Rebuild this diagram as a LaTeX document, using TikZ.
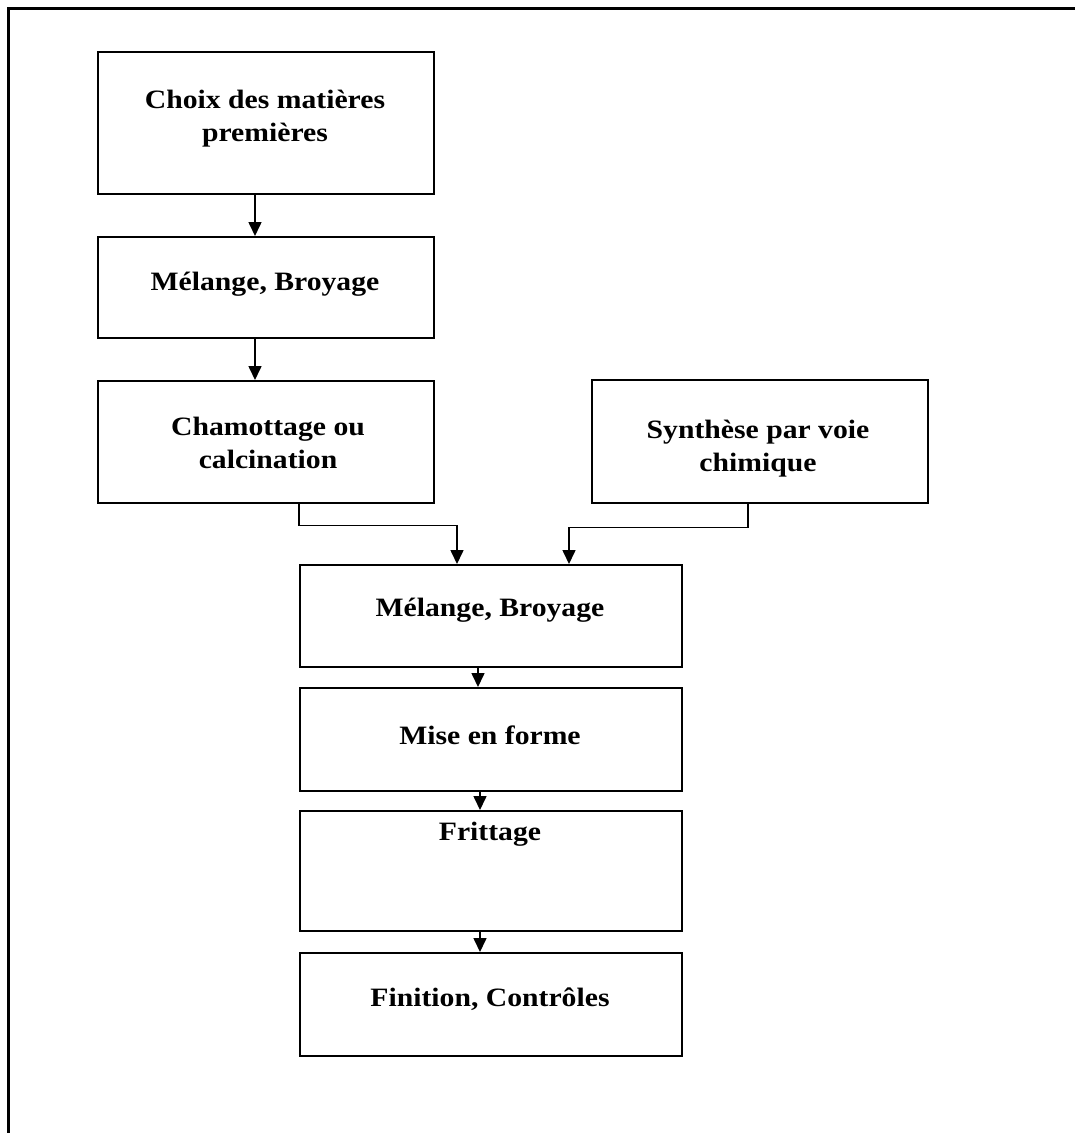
\documentclass[tikz,border=0pt]{standalone}
\usepackage{fontspec}
\newfontfamily\lblfont{Liberation Serif}[FakeStretch=1.12]
\usetikzlibrary{arrows.meta}
\begin{document}
\begin{tikzpicture}[x=1pt,y=-1pt,
  box/.style={draw=black,line width=2.3pt,inner sep=0pt,anchor=north west},
  lbl/.style={align=center,inner sep=0pt,font=\lblfont\bfseries\fontsize{26.5}{33}\selectfont},
  arr/.style={draw=black,line width=1.6pt,-{Triangle[width=13pt,length=14pt]}},
  ]
\useasboundingbox (0,0) rectangle (1075,1133);
\fill[white] (0,0) rectangle (1075,1133);
% frame
\draw[line width=3pt] (8,1140) -- (8,8) -- (1080,8);
% boxes
\node[box,minimum width=336pt,minimum height=142pt] (b1) at (97,51) {};
\node[box,minimum width=336pt,minimum height=101pt] (b2) at (97,236) {};
\node[box,minimum width=336pt,minimum height=122pt] (b3) at (97,380) {};
\node[box,minimum width=336pt,minimum height=123pt] (b4) at (591,379) {};
\node[box,minimum width=382pt,minimum height=102pt] (b5) at (299,564) {};
\node[box,minimum width=382pt,minimum height=103pt] (b6) at (299,687) {};
\node[box,minimum width=382pt,minimum height=120pt] (b7) at (299,810) {};
\node[box,minimum width=382pt,minimum height=103pt] (b8) at (299,952) {};
% labels
\node[lbl] (t1) at (265,119) {Choix des matières\\premières};
\node[lbl] (t2) at (265,284) {Mélange, Broyage};
\node[lbl] (t3) at (268,443) {Chamottage ou\\calcination};
\node[lbl] (t4) at (758,449) {Synthèse par voie\\chimique};
\node[lbl] (t5) at (490,610) {Mélange, Broyage};
\node[lbl] (t6) at (490,735) {Mise en forme};
\node[lbl] (t7) at (490,834) {Frittage};
\node[lbl] (t8) at (490,999) {Finition, Contrôles};
% connectors
\draw[arr] ([xshift=158pt]b1.south west) -- ([xshift=158pt]b2.north west);
\draw[arr] ([xshift=158pt]b2.south west) -- ([xshift=158pt]b3.north west);
\draw[arr] ([xshift=202pt]b3.south west) -- ++(0,21) -| ([xshift=158pt]b5.north west);
\draw[arr] ([xshift=157pt]b4.south west) -- ++(0,23) -| ([xshift=270pt]b5.north west);
\draw[arr] ([xshift=179pt]b5.south west) -- ([xshift=179pt]b6.north west);
\draw[arr] ([xshift=181pt]b6.south west) -- ([xshift=181pt]b7.north west);
\draw[arr] ([xshift=181pt]b7.south west) -- ([xshift=181pt]b8.north west);
\end{tikzpicture}
\end{document}
